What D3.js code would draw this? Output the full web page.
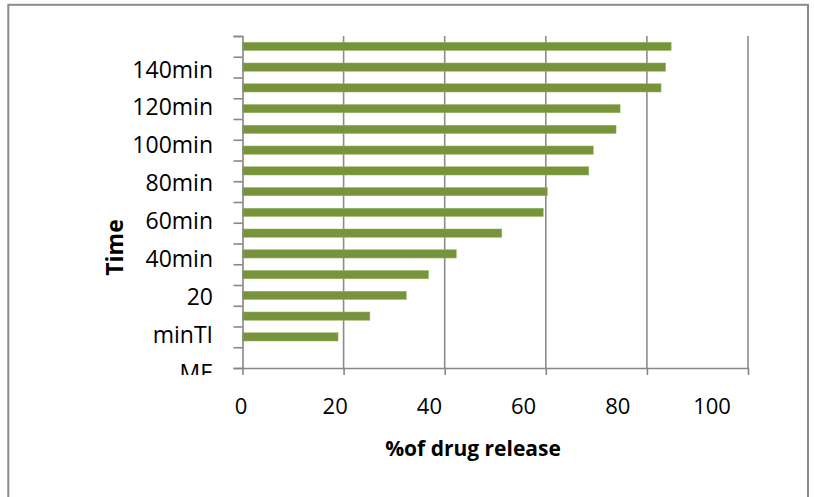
<!DOCTYPE html>
<html>
<head>
<meta charset="utf-8">
<script src="https://cdn.jsdelivr.net/npm/d3@7"></script>
<style>
  html, body { margin: 0; padding: 0; background: #ffffff; }
  svg { display: block; }
  text { font-family: "Open Sans", "Noto Sans", sans-serif; fill: #000; }
</style>
</head>
<body>
<svg id="chart" width="814" height="497"></svg>
<script>
// ---- data (bottom category first) ----
const categories = ["0","10","20","30","40","50","60","70","80","90","100","110","120","130","140","150"];
const releaseValues = [0, 18.9, 25.2, 32.4, 36.8, 42.3, 51.3, 59.5, 60.3, 68.5, 69.4, 73.9, 74.7, 82.8, 83.7, 84.8];
const yTickLabels = ["140min","120min","100min","80min","60min","40min","20","minTI","ME"];
const xTickValues = [0, 20, 40, 60, 80, 100];
const xTitle = "%of drug release";
const yTitle = "Time";

const svg = d3.select("#chart");

// outer frame
svg.append("rect")
  .attr("x", 8.3).attr("y", 4.8).attr("width", 799.7).attr("height", 600)
  .attr("fill", "none").attr("stroke", "#8a8a8a").attr("stroke-width", 2);

const plot = { left: 242.5, right: 748, top: 36, bottom: 368 };

const x = d3.scaleLinear().domain([0, 100]).range([plot.left, plot.right]);
const y = d3.scaleBand().domain(categories).range([plot.bottom, plot.top])
  .paddingInner(0.6).paddingOuter(0.3);
const slot = d3.scaleLinear().domain([0, categories.length]).range([plot.bottom, plot.top]);

// gridlines
svg.append("g").selectAll("line")
  .data(xTickValues.slice(1))
  .join("line")
  .attr("x1", d => x(d)).attr("x2", d => x(d))
  .attr("y1", plot.top).attr("y2", plot.bottom)
  .attr("stroke", "#8c8c8c").attr("stroke-width", 1.6);

// bars
svg.append("g").selectAll("rect")
  .data(categories.map((c, i) => ({ c, v: releaseValues[i] })))
  .join("rect")
  .attr("x", x(0))
  .attr("y", d => y(d.c))
  .attr("width", d => x(d.v) - x(0))
  .attr("height", y.bandwidth())
  .attr("fill", "#77933C")
  .attr("stroke", "#9BB865").attr("stroke-width", 0.5);

// y axis (category boundaries)
const yAxis = svg.append("g")
  .attr("transform", `translate(${plot.left},0)`)
  .call(d3.axisLeft(slot).ticks(categories.length).tickSize(9).tickFormat(""));
yAxis.select(".domain").attr("stroke", "#878787").attr("stroke-width", 1.6);
yAxis.selectAll(".tick line").attr("stroke", "#878787").attr("stroke-width", 1.6);

// x axis
const xAxis = svg.append("g")
  .attr("transform", `translate(0,${plot.bottom})`)
  .call(d3.axisBottom(x).tickValues(xTickValues).tickSize(7).tickSizeOuter(0).tickFormat(""));
xAxis.select(".domain").attr("stroke", "#878787").attr("stroke-width", 1.6);
xAxis.selectAll(".tick line").attr("stroke", "#878787").attr("stroke-width", 1.6);

// x tick labels
const xLabelPos = d3.scalePoint().domain(xTickValues).range([241, 712]);
svg.append("g").selectAll("text")
  .data(xTickValues)
  .join("text")
  .attr("x", d => xLabelPos(d))
  .attr("y", 414)
  .attr("text-anchor", "middle")
  .attr("font-size", 22)
  .text(d => d);

// y tick labels (clipped like the reference)
svg.append("clipPath").attr("id", "ylabclip")
  .append("rect").attr("x", 0).attr("y", 0).attr("width", 240).attr("height", 375);
const yLabelPos = d3.scalePoint().domain(yTickLabels).range([69.5, 372.5]);
svg.append("g").attr("clip-path", "url(#ylabclip)").selectAll("text")
  .data(yTickLabels)
  .join("text")
  .attr("x", 213)
  .attr("y", d => yLabelPos(d))
  .attr("dy", "0.35em")
  .attr("text-anchor", "end")
  .attr("font-size", 23)
  .text(d => d);

// axis titles
svg.append("text")
  .attr("x", 473).attr("y", 456)
  .attr("text-anchor", "middle")
  .attr("font-size", 21).attr("font-weight", "bold")
  .text(xTitle);

svg.append("text")
  .attr("transform", "translate(123,247.5) rotate(-90)")
  .attr("text-anchor", "middle")
  .attr("font-size", 23).attr("font-weight", "bold")
  .text(yTitle);
</script>
</body>
</html>
